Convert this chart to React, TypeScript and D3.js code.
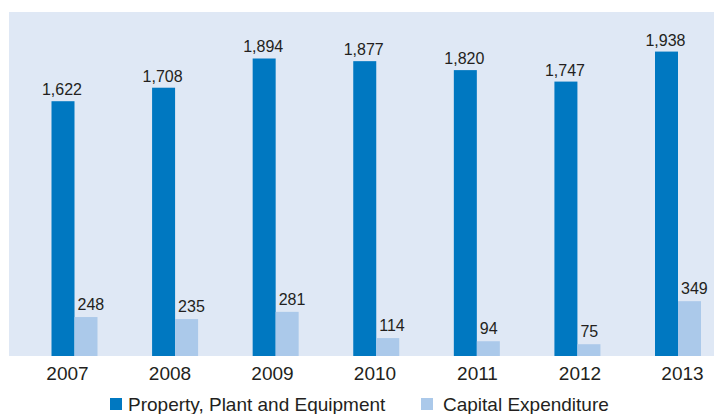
import React from "react";
import * as d3 from "d3";

const years = ["2007", "2008", "2009", "2010", "2011", "2012", "2013"];
const ppe = [1622, 1708, 1894, 1877, 1820, 1747, 1938];
const capex = [248, 235, 281, 114, 94, 75, 349];
const seriesNames = ["Property, Plant and Equipment", "Capital Expenditure"];
const colors = ["#0078c1", "#abc9ea"];

const W = 714;
const H = 414;
const panel = { x0: 9, x1: 714, y0: 12, y1: 356 };
const fmt = d3.format(",");
const font = "'Liberation Sans', Arial, Helvetica, sans-serif";
const textColor = "#231f20";

export default function App() {
  const x = d3.scalePoint<string>().domain(years).range([74.5, 678]);
  const xLabel = d3.scalePoint<string>().domain(years).range([67.5, 682.5]);
  const bw = 23;
  const y = d3.scaleLinear().domain([0, 2190]).range([panel.y1, panel.y0]);

  return (
    <svg
      width={W}
      height={H}
      style={{ position: "absolute", left: 0, top: 0 }}
      fontFamily={font}
    >
      <rect x={0} y={0} width={W} height={H} fill="#ffffff" />
      <rect
        x={panel.x0}
        y={panel.y0}
        width={panel.x1 - panel.x0}
        height={panel.y1 - panel.y0}
        fill="#dfe8f5"
      />
      {years.map((yr, i) => {
        const cx = x(yr) as number;
        const xd = cx - bw;
        const xl = cx;
        return (
          <g key={yr}>
            <rect x={xd} y={y(ppe[i])} width={bw} height={panel.y1 - y(ppe[i])} fill={colors[0]} />
            <rect x={xl} y={y(capex[i])} width={bw} height={panel.y1 - y(capex[i])} fill={colors[1]} />
            <text
              x={xd + bw / 2 - 1}
              y={y(ppe[i]) - 6}
              textAnchor="middle"
              fontSize={16}
              fill={textColor}
            >
              {fmt(ppe[i])}
            </text>
            <text x={xl + 3} y={y(capex[i]) - 7} fontSize={16} fill={textColor}>
              {fmt(capex[i])}
            </text>
            <text x={xLabel(yr) as number} y={380} textAnchor="middle" fontSize={19} fill={textColor}>
              {yr}
            </text>
          </g>
        );
      })}
      <g>
        <rect x={110} y={398} width={12} height={12} fill={colors[0]} />
        <text x={128} y={411} fontSize={19} fill={textColor}>
          {seriesNames[0]}
        </text>
        <rect x={421} y={398} width={12} height={12} fill={colors[1]} />
        <text x={443} y={411} fontSize={19} fill={textColor}>
          {seriesNames[1]}
        </text>
      </g>
    </svg>
  );
}
